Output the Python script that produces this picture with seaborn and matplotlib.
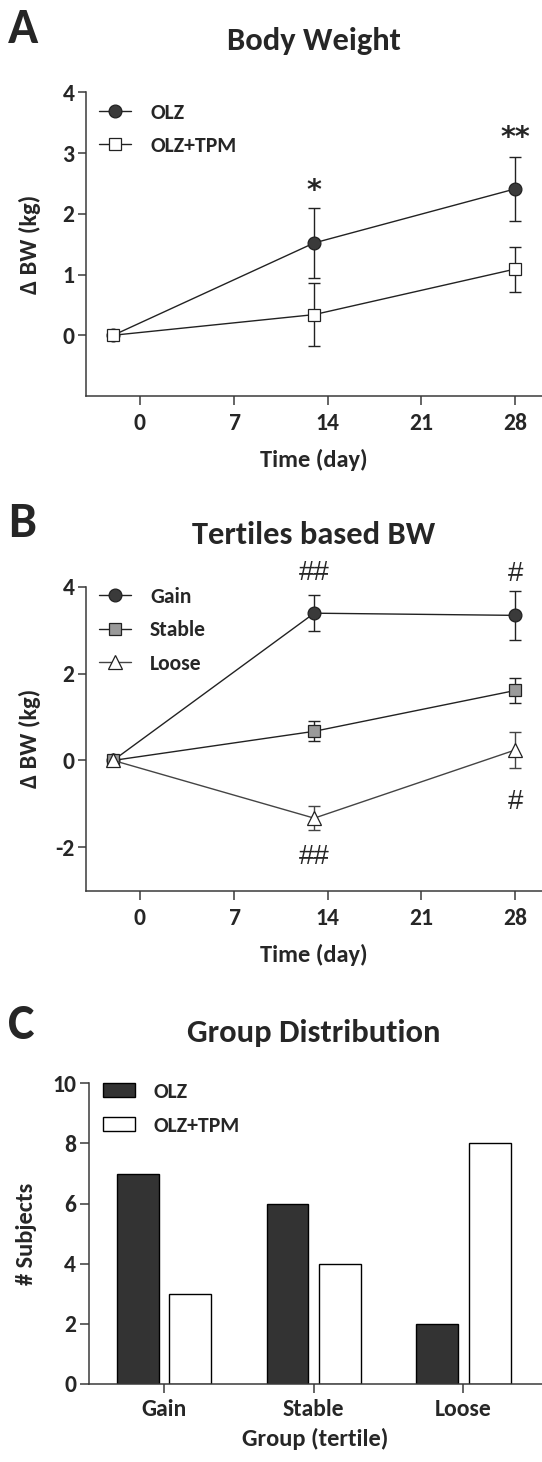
import numpy as np
import pandas as pd
import matplotlib
matplotlib.use("Agg")
import matplotlib.pyplot as plt
import seaborn as sns

# Panel A: change in body weight (mean +/- SEM)
days = [-2, 13, 28]
olz_mean = [0, 1.52, 2.41]
olz_sem = [0, 0.58, 0.53]
tpm_mean = [0, 0.34, 1.09]
tpm_sem = [0, 0.52, 0.37]

# Panel B: tertiles
gain_mean = [0, 3.39, 3.34]
gain_sem = [0, 0.42, 0.57]
stable_mean = [0, 0.67, 1.61]
stable_sem = [0, 0.23, 0.29]
loose_mean = [0, -1.33, 0.24]
loose_sem = [0, 0.27, 0.41]

# Panel C: group distribution
tertiles = ["Gain", "Stable", "Loose"]
olz_counts = [7, 6, 2]
tpm_counts = [3, 4, 8]

sns.set_style("ticks")
plt.rcParams["font.family"] = ["Carlito", "DejaVu Sans"]
plt.rcParams["font.weight"] = "bold"
plt.rcParams["axes.labelweight"] = "bold"
plt.rcParams["axes.unicode_minus"] = False

INK = "#222222"
SPINE = "#3a3a3a"
W, H = 542, 1462
TICK = 17
LABEL = 17.6
LEG = 15.6

fig = plt.figure(figsize=(W / 100, H / 100), dpi=100)


def box(left, top, right, bottom):
    # pixel box -> figure fraction
    return [left / W, 1 - bottom / H, (right - left) / W, (bottom - top) / H]


def style_axes(ax, top, bottom, xlab_base, ylab_base, xlen=6.3, ylen=5.5, xpad=6):
    sns.despine(ax=ax)
    for s in ["left", "bottom"]:
        ax.spines[s].set_color(SPINE)
        ax.spines[s].set_linewidth(1.1)
    ax.tick_params(axis="x", length=xlen, width=1.1, color=SPINE, labelsize=TICK, pad=xpad)
    ax.tick_params(axis="y", length=ylen, width=1.1, color=SPINE, labelsize=TICK, pad=3)
    # place axis labels by their baselines (pixels)
    bb = ax.get_position()
    left_px = bb.x0 * W
    width_px = bb.width * W
    height = bottom - top
    ax.xaxis.label.set_va("baseline")
    ax.xaxis.set_label_coords(0.5, -(xlab_base - bottom) / height)
    ax.yaxis.label.set_va("baseline")
    ax.yaxis.set_label_coords((ylab_base - left_px) / width_px, 0.5)


def series(ax, mean, sem, label, marker, face, ms, color=INK):
    df = pd.DataFrame({"day": days, "bw": mean})
    ax.errorbar(days[1:], mean[1:], yerr=sem[1:], fmt="none", ecolor=color,
                elinewidth=1, capsize=4.6, capthick=1, zorder=2)
    sns.lineplot(data=df, x="day", y="bw", ax=ax, color=color, lw=1,
                 marker=marker, markersize=ms, markerfacecolor=face,
                 markeredgecolor=INK, markeredgewidth=0.9, label=label, zorder=3)


def panel_text(letter, title, letter_base, title_base):
    fig.text(8 / W, 1 - letter_base / H, letter, fontsize=36, fontweight="bold", va="baseline", ha="left")
    fig.text(314 / W, 1 - title_base / H, title, fontsize=23.4, fontweight="bold", va="baseline", ha="center")


# ---------- A ----------
A_TOP, A_BOT = 92.3, 396
axa = fig.add_axes(box(86.4, A_TOP, 542, A_BOT))
series(axa, olz_mean, olz_sem, "OLZ", "o", "#3a3a3a", 9.2)
series(axa, tpm_mean, tpm_sem, "OLZ+TPM", "s", "white", 8.7)
axa.set_xlim(-4, 30)
axa.set_ylim(-1, 4)
axa.set_xticks([0, 7, 14, 21, 28])
axa.set_yticks([0, 1, 2, 3, 4])
axa.set_xlabel("Time (day)", fontsize=LABEL)
axa.set_ylabel("Δ BW (kg)", fontsize=LABEL)
style_axes(axa, A_TOP, A_BOT, 467, 37)
star_font = dict(family="DejaVu Sans", fontsize=20.6, fontweight="bold", ha="center", va="baseline")
axa.text(13, 2.25, "*", **star_font)
axa.text(28, 3.11, "**", **star_font)
axa.legend(loc="upper left", bbox_to_anchor=(0.027, 0.965), frameon=False, fontsize=LEG,
           borderpad=0, borderaxespad=0, handlelength=1.5, handletextpad=0.87, labelspacing=0.6)
panel_text("A", "Body Weight", 43, 50)

# ---------- B ----------
B_TOP, B_BOT = 586.7, 890.7
axb = fig.add_axes(box(86.4, B_TOP, 542, B_BOT))
series(axb, gain_mean, gain_sem, "Gain", "o", "#3a3a3a", 9.2)
series(axb, stable_mean, stable_sem, "Stable", "s", "#9a9a9a", 8.7)
series(axb, loose_mean, loose_sem, "Loose", "^", "white", 9.5, color="#444444")
axb.set_xlim(-4, 30)
axb.set_ylim(-3, 4)
axb.set_xticks([0, 7, 14, 21, 28])
axb.set_yticks([-2, 0, 2, 4])
axb.set_xlabel("Time (day)", fontsize=LABEL)
axb.set_ylabel("Δ BW (kg)", fontsize=LABEL)
style_axes(axb, B_TOP, B_BOT, 962, 37)
hash_font = dict(family="Liberation Sans", fontsize=20, fontweight="normal", ha="center", va="center")
axb.text(13, 4.31, "##", **hash_font)
axb.text(28, 4.30, "#", **hash_font)
axb.text(13, -2.23, "##", **hash_font)
axb.text(28, -0.96, "#", **hash_font)
axb.legend(loc="upper left", bbox_to_anchor=(0.027, 1.0), frameon=False, fontsize=LEG,
           borderpad=0, borderaxespad=0, handlelength=1.5, handletextpad=0.87, labelspacing=0.62)
panel_text("B", "Tertiles based BW", 536.7, 544)

# ---------- C ----------
C_TOP, C_BOT = 1083.3, 1384
axc = fig.add_axes(box(89.2, C_TOP, 542, C_BOT))
bar_df = pd.DataFrame({
    "tertile": tertiles * 2,
    "n": olz_counts + tpm_counts,
    "group": ["OLZ"] * 3 + ["OLZ+TPM"] * 3,
})
sns.barplot(data=bar_df, x="tertile", y="n", hue="group", palette=["#333333", "white"],
            edgecolor="black", linewidth=1, width=0.7, gap=0.2, ax=axc)
axc.set_xlim(-0.5, 2.525)
axc.set_ylim(0, 10)
axc.set_yticks([0, 2, 4, 6, 8, 10])
axc.set_xlabel("Group (tertile)", fontsize=LABEL)
axc.set_ylabel("# Subjects", fontsize=LABEL)
style_axes(axc, C_TOP, C_BOT, 1446, 33, xlen=6.7, ylen=6.5, xpad=4)
axc.legend(title=None, loc="upper left", bbox_to_anchor=(0.03, 1.005), frameon=False, fontsize=LEG,
           borderpad=0, borderaxespad=0, handlelength=1.5, handleheight=0.66,
           handletextpad=0.84, labelspacing=0.64)
panel_text("C", "Group Distribution", 1039, 1041.7)

fig.savefig("out.png", dpi=100)
